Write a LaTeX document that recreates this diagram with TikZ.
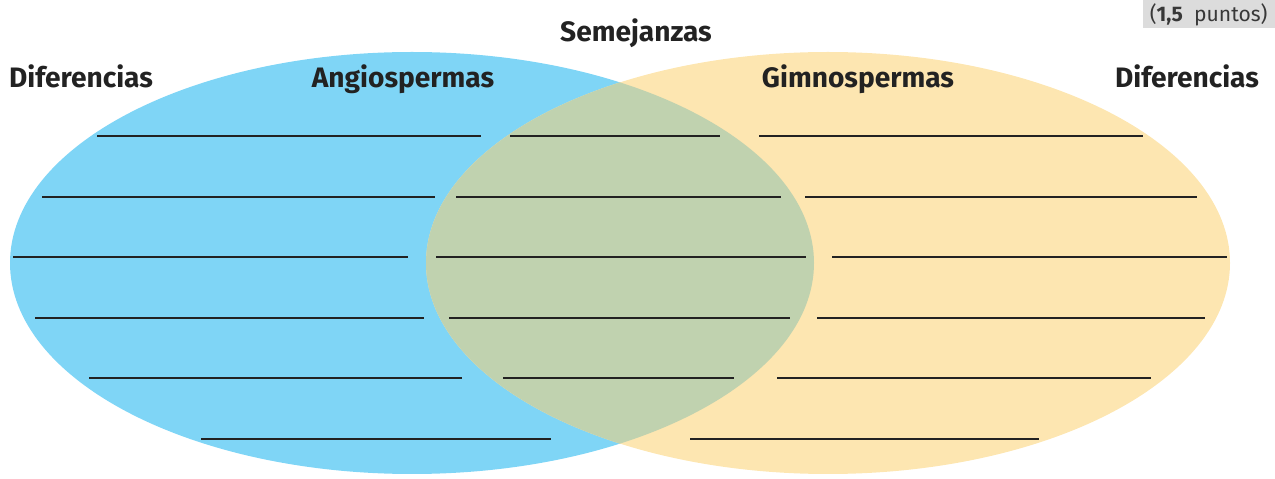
\documentclass[tikz,border=0pt]{standalone}
\usepackage{fontspec}
\setmainfont{Fira Sans}
\usetikzlibrary{positioning}
\definecolor{angioblue}{HTML}{7FD5F6}
\definecolor{gimnoyellow}{HTML}{FDE6B1}
\definecolor{overlapgreen}{HTML}{C0D2AF}
\definecolor{boxgray}{HTML}{DCDCDC}
\definecolor{inkgray}{HTML}{222222}

\begin{document}
\begin{tikzpicture}[
    x=0.02cm, y=-0.02cm,
    title/.style={font=\bfseries\fontsize{16}{18}\selectfont, text=inkgray, anchor=base, inner sep=0pt},
    blank/.style={line width=1.1pt, draw=inkgray},
    score/.style={fill=boxgray, text=inkgray!90, font=\fontsize{12}{14}\selectfont, minimum width=2.64cm, minimum height=0.56cm, inner sep=0pt, anchor=north east}
]
    \useasboundingbox (0,0) rectangle (1275,479);

    % the two sets and their overlap
    \fill[angioblue] (412,263) ellipse [x radius=402, y radius=211];
    \fill[gimnoyellow] (828,263) ellipse [x radius=402, y radius=211];
    \begin{scope}
        \clip (412,263) ellipse [x radius=402, y radius=211];
        \fill[overlapgreen] (828,263) ellipse [x radius=402, y radius=211];
    \end{scope}

    % writing lines
    \foreach \y/\a/\b in {136/97/481, 136/510/720, 136/759/1143,
                          197/42/435, 197/456/781, 197/805/1197,
                          257/13/408, 257/436/806, 257/832/1227,
                          318/35/424, 318/449/790, 318/817/1205,
                          378/89/462, 378/503/734, 378/777/1151,
                          439/201/551, 439/690/1039}
        \draw[blank] (\a,\y) -- (\b,\y);

    % labels
    \node[title] (semejanzas) at (636,42) {Semejanzas};
    \node[title] (difangio) at (81,88) {Diferencias};
    \node[title] (angio) at (403,88) {Angiospermas};
    \node[title] (gimno) at (858,88) {Gimnospermas};
    \node[title] (difgimno) at (1187,88) {Diferencias};
    \node[score] (puntos) at (1275,0) {(\textbf{1,5}~ puntos)};
\end{tikzpicture}
\end{document}
